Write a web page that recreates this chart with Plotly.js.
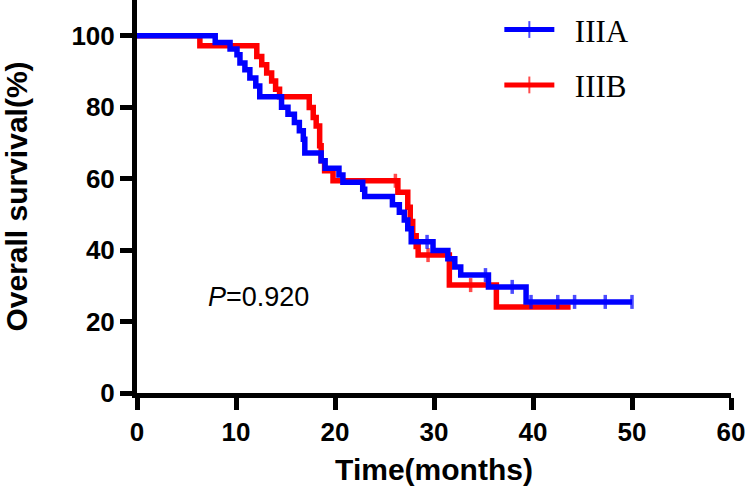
<!DOCTYPE html>
<html>
<head>
<meta charset="utf-8">
<script src="https://cdn.plot.ly/plotly-3.0.1.min.js"></script>
<style>html,body{margin:0;padding:0;background:#fff;}#chart{width:745px;height:496px;}</style>
</head>
<body>
<div id="chart"></div>
<script>
// ---- Data ----
const groupNames = ['IIIA', 'IIIB'];
const xTicks = [0, 10, 20, 30, 40, 50, 60];
const yTicks = [0, 20, 40, 60, 80, 100];

// IIIA: step (event) times and survival after each step
const iiiaTime = [0, 7.9, 9.4, 10.1, 10.4, 10.9, 11.4, 12.0, 12.4, 14.6, 15.25, 15.9, 16.4, 16.8, 16.95, 18.6, 19.0, 20.4, 20.8, 22.8, 23.0, 25.8, 26.5, 27.0, 27.35, 27.7, 29.9, 31.4, 32.1, 32.7, 35.5, 39.3];
const iiiaSurv = [100, 98.1, 96.3, 94.7, 92.4, 90.5, 88.2, 85.9, 82.9, 80.0, 78.0, 75.7, 73.4, 71.0, 67.2, 65.0, 62.9, 61.0, 59.0, 57.0, 55.0, 52.7, 50.6, 48.4, 46.0, 42.3, 39.9, 37.6, 35.3, 33.0, 29.7, 25.5];
const iiiaCensorTime = [29.3, 35.2, 37.9, 39.8, 42.5, 44.2, 47.3, 50.0];
const iiiaCensorSurv = [42.3, 33.0, 29.7, 25.5, 25.5, 25.5, 25.5, 25.5];
const iiiaEnd = 50.0;

// IIIB
const iiibTime = [0, 6.35, 12.1, 12.6, 13.1, 13.6, 14.0, 14.4, 17.4, 17.8, 18.1, 18.45, 18.6, 18.95, 19.8, 26.35, 27.35, 27.6, 27.85, 28.2, 28.4, 31.55, 36.3];
const iiibSurv = [100, 97.2, 94.2, 91.9, 89.6, 87.3, 85.0, 82.9, 79.9, 77.1, 74.7, 69.2, 65.0, 62.2, 59.4, 56.2, 52.0, 48.0, 44.0, 41.0, 38.6, 30.2, 24.1];
const iiibCensorTime = [26.1, 29.4, 33.7];
const iiibCensorSurv = [59.4, 38.6, 30.2];
const iiibEnd = 43.8;

const pLabel = '<i>P</i>=0.920';

// ---- Build traces ----
function kmTrace(name, times, surv, cTimes, cSurv, endTime, color, legendId) {
  const pts = [];
  times.forEach((t, i) => pts.push({x: t, y: surv[i], c: false}));
  cTimes.forEach((t, i) => pts.push({x: t, y: cSurv[i], c: true}));
  pts.sort((a, b) => a.x - b.x || (a.c ? 1 : -1));
  if (pts[pts.length - 1].x < endTime) {
    pts.push({x: endTime, y: pts[pts.length - 1].y, c: false});
  }
  return {
    type: 'scatter',
    mode: 'lines+markers',
    name: '\u2002' + name,
    legend: legendId,
    x: pts.map(p => p.x),
    y: pts.map(p => p.y),
    line: {shape: 'hv', color: color, width: 5.5},
    marker: {
      symbol: 'line-ns',
      size: pts.map(p => p.c ? 10 : 0),
      color: color,
      line: {color: color, width: 3.5}
    },
    hoverinfo: 'x+y+name'
  };
}

const traces = [
  kmTrace(groupNames[1], iiibTime, iiibSurv, iiibCensorTime, iiibCensorSurv, iiibEnd, '#ff0000', 'legend2'),
  kmTrace(groupNames[0], iiiaTime, iiiaSurv, iiiaCensorTime, iiiaCensorSurv, iiiaEnd, '#0000ff', 'legend')
];

const tickFont = {family: 'Liberation Sans, Arial, sans-serif', size: 26, color: '#000', weight: 'bold'};
const titleFont = {family: 'Liberation Sans, Arial, sans-serif', size: 30, color: '#000', weight: 'bold'};
const legendFont = {family: 'Liberation Serif, Times New Roman, serif', size: 31, color: '#000'};

const layout = {
  width: 745,
  height: 496,
  margin: {l: 137, r: 14, t: 0, b: 103},
  paper_bgcolor: '#fff',
  plot_bgcolor: '#fff',
  showlegend: true,
  xaxis: {
    range: [0, 60],
    tickvals: xTicks,
    ticktext: xTicks.map(String),
    ticks: 'outside', ticklen: 12, tickwidth: 5, tickcolor: '#000',
    showline: true, linewidth: 5, linecolor: '#000',
    showgrid: false, zeroline: false,
    ticklabeloverflow: 'allow',
    tickfont: tickFont,
    title: {text: 'Time(months)', font: titleFont, standoff: 14}
  },
  yaxis: {
    range: [0, 110],
    tickvals: yTicks,
    ticktext: yTicks.map(String),
    ticks: 'outside', ticklen: 12, tickwidth: 5, tickcolor: '#000',
    showline: true, linewidth: 5, linecolor: '#000',
    showgrid: false, zeroline: false,
    tickfont: tickFont,
    title: {text: 'Overall survival(%)', font: titleFont, standoff: 38}
  },
  legend: {
    x: 0.61, y: 0.924, xanchor: 'left', yanchor: 'middle',
    font: legendFont, bgcolor: 'rgba(0,0,0,0)', borderwidth: 0,
    itemsizing: 'constant', itemwidth: 50
  },
  legend2: {
    x: 0.61, y: 0.783, xanchor: 'left', yanchor: 'middle',
    font: legendFont, bgcolor: 'rgba(0,0,0,0)', borderwidth: 0,
    itemsizing: 'constant', itemwidth: 50
  },
  annotations: [{
    xref: 'x', yref: 'y', x: 7.0, y: 27, xanchor: 'left', yanchor: 'middle',
    text: pLabel, showarrow: false,
    font: {family: 'Liberation Sans, Arial, sans-serif', size: 27, color: '#000'}
  }]
};

Plotly.newPlot('chart', traces, layout, {displayModeBar: false, responsive: false});
</script>
</body>
</html>
